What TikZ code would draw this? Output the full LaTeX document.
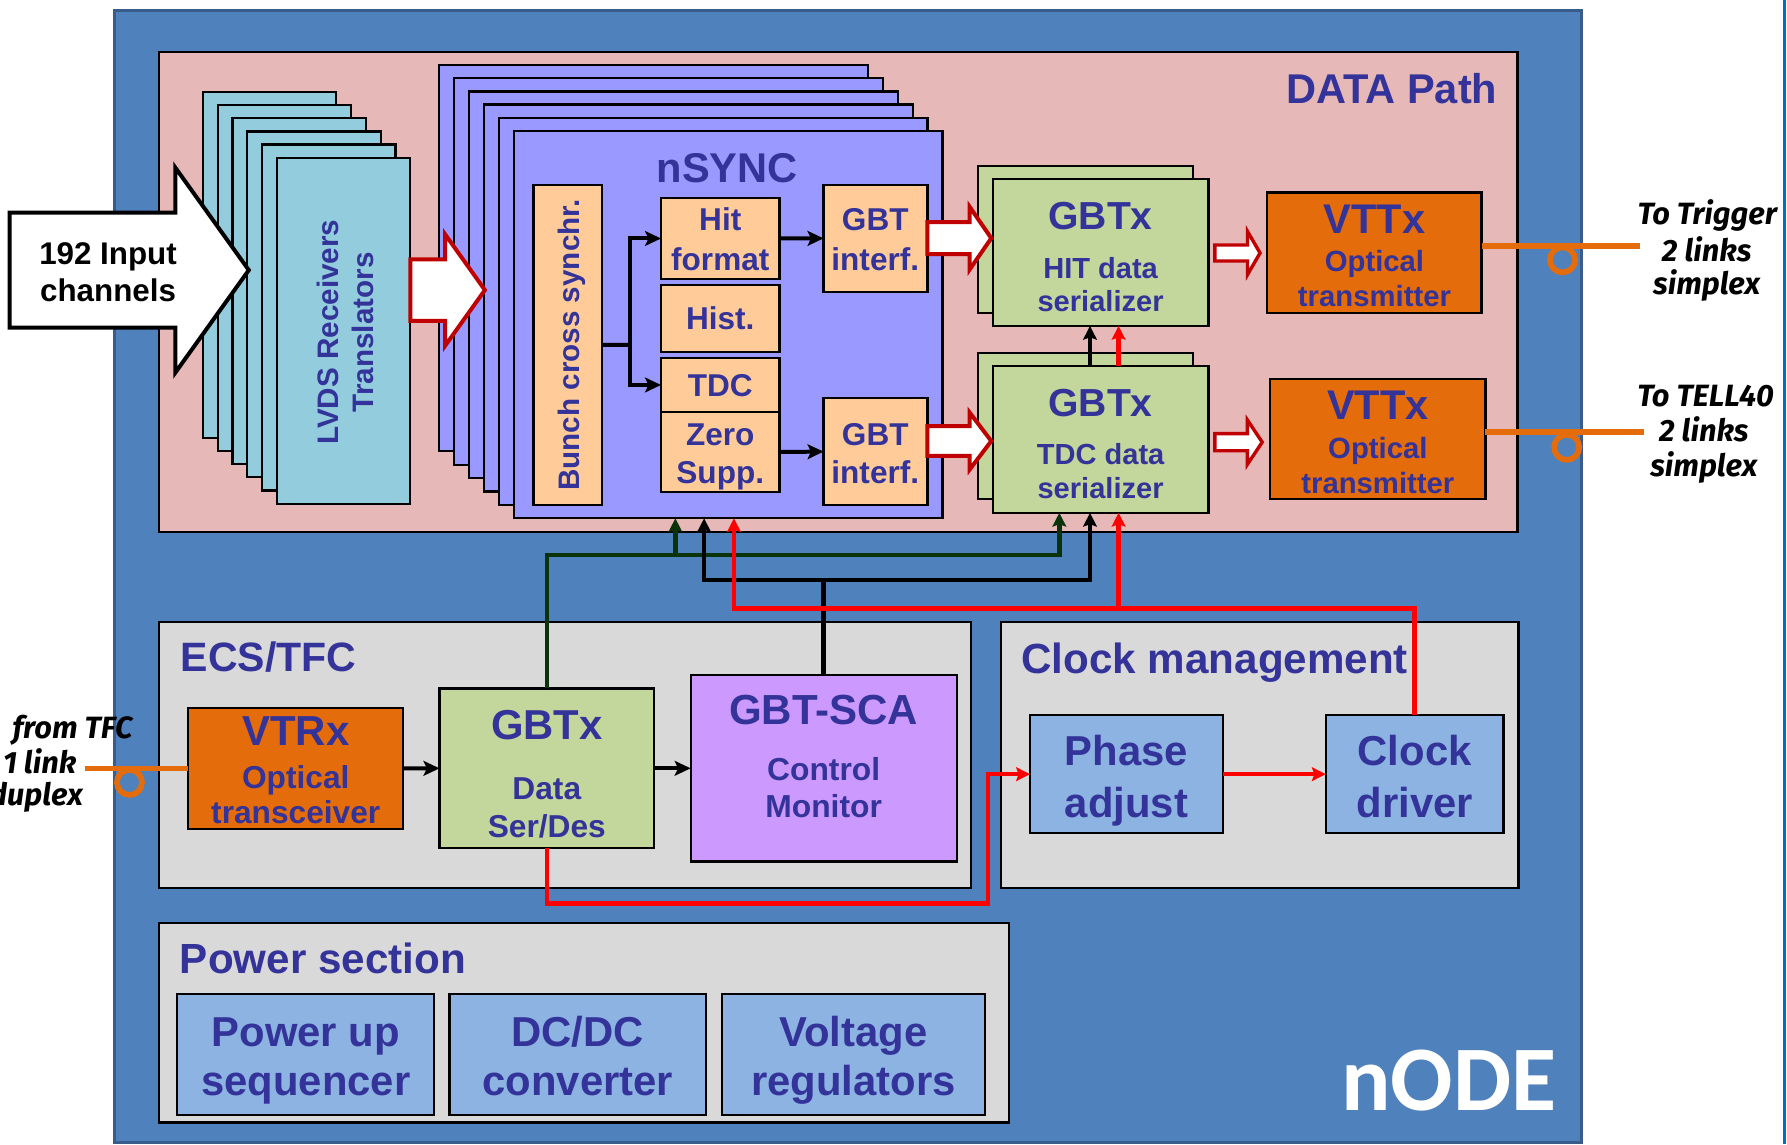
\documentclass[tikz,border=0pt]{standalone}
\usepackage{fontspec}
\setmainfont{Liberation Sans}
\newfontfamily\calfont{Carlito}
\newfontfamily\handfont{Fira Sans}
\usetikzlibrary{arrows.meta}
\definecolor{nodeblue}{HTML}{4F81BD}
\definecolor{nodeborder}{HTML}{385D8A}
\definecolor{pinkbg}{HTML}{E6B9B8}
\definecolor{lvds}{HTML}{93CDDD}
\definecolor{nsync}{HTML}{9999FF}
\definecolor{peach}{HTML}{FFCC99}
\definecolor{gbtgreen}{HTML}{C3D69B}
\definecolor{orng}{HTML}{E46C0A}
\definecolor{lilac}{HTML}{CC99FF}
\definecolor{ltblue}{HTML}{8DB3E2}
\definecolor{grayb}{HTML}{D9D9D9}
\definecolor{tblue}{HTML}{333399}
\definecolor{dgreen}{HTML}{0A330A}
\definecolor{darkred}{HTML}{C00000}
\definecolor{edgeblue}{HTML}{0070C0}
\newcommand\fsz[1]{\fontsize{#1}{#1}\selectfont}
\newcommand\mkbox[6]{\node[bx,fill=#2,minimum width={(#5)-(#3)},minimum height={(#6)-(#4)}] (#1) at (#3,#4) {};}
\newcommand\tline[5]{\node[txt,font={\bfseries\fsz{#4}}] (#1) at (#2,#3) {#5};}
\newcommand\fatarrow[8]{\draw[line width=#8, fill=white, line join=miter] (#1,#3-#4) -- (#2-#6,#3-#4) -- (#2-#6,#3-#5) -- (#2,#3) -- (#2-#6,#3+#5) -- (#2-#6,#3+#4) -- (#1,#3+#4) -- cycle;}
\tikzset{
  bx/.style={draw=black, line width=2pt, inner sep=0pt, outer sep=0pt, anchor=north west},
  txt/.style={anchor=base, text=tblue, inner sep=0pt},
  hand/.style={anchor=base, inner sep=0pt, font={\handfont\bfseries\itshape\fsz{27}}},
  blkarr/.style={draw=black, line width=3.5pt, -{Stealth[length=14pt,width=13pt,inset=3pt]}},
  cline/.style={line width=4pt},
  ctip/.style={-{Stealth[length=12pt,width=12pt,inset=2pt]}},
  lnk/.style={draw=orng, line width=5pt},
}
\begin{document}
\begin{tikzpicture}[x=1pt,y=-1pt]
\useasboundingbox (0,0) rectangle (1568,1004);
% outer nODE box
\draw[fill=nodeblue, draw=nodeborder, line width=2.5pt] (100.7,9.4) rectangle (1387.8,1002.6);
\draw[draw=edgeblue, line width=2.5pt] (1566,0) -- (1566,1004);
% DATA path
\mkbox{datap}{pinkbg}{139.3}{45.4}{1331.5}{466.5}
\node[txt, anchor=base east, font={\bfseries\fsz{36.5}}] (tdata) at (1314,90.6) {DATA Path};
% LVDS stack
\foreach \i in {0,...,5} {\mkbox{lv\i}{lvds}{178+13*\i}{80.5+11.6*\i}{295+13*\i}{384+11.6*\i}}
\node[txt, rotate=90, font={\bfseries\fsz{26}}] (tlv1) at (297,291.5) {LVDS Receivers};
\node[txt, rotate=90, font={\bfseries\fsz{26}}] (tlv2) at (327.5,291.5) {Translators};
% nSYNC stack
\foreach \i in {0,...,5} {\mkbox{ns\i}{nsync}{385.5+13.04*\i}{57+11.6*\i}{761.7+13.04*\i}{396+11.76*\i}}
\tline{tns}{638}{160.3}{36.5}{nSYNC}
\mkbox{bunch}{peach}{468}{162.3}{528.4}{443}
\node[txt, rotate=90, font={\bfseries\fsz{26}}] (tbunch) at (508.9,302.7) {Bunch cross synchr.};
\mkbox{hit}{peach}{580}{174}{684}{244.5}
\mkbox{hist}{peach}{580}{250.3}{684}{308.9}
\mkbox{tdc}{peach}{580}{314.4}{684}{361.2}
\mkbox{zero}{peach}{580}{361.2}{684}{432}
\mkbox{gbti}{peach}{722.6}{162.3}{813.7}{256}
\mkbox{gbtii}{peach}{722.6}{349.5}{813.7}{443}
\tline{thit1}{632}{202.4}{27.7}{Hit}
\tline{thit2}{632}{237}{27.7}{format}
\tline{thist}{632}{289.5}{27.7}{Hist.}
\tline{ttdc}{632}{348}{27.7}{TDC}
\tline{tzero1}{632}{390.5}{27.7}{Zero}
\tline{tzero2}{632}{424}{27.7}{Supp.}
\tline{tgi1}{768}{202.4}{27.7}{GBT}
\tline{tgi2}{768}{237}{27.7}{interf.}
\tline{tgii1}{768}{390.5}{27.7}{GBT}
\tline{tgii2}{768}{424}{27.7}{interf.}
\coordinate (bj) at (552.4,302.6);
\draw[line width=3.5pt] (bunch.east) -- (bj);
\draw[blkarr] (bj) |- (hit.west);
\draw[blkarr] (bj) |- (tdc.west);
\draw[blkarr] (hit.east) -- (gbti.west);
\draw[blkarr] (zero.east) -- (gbtii.west);
% GBTx serializers
\mkbox{hitB}{gbtgreen}{858.4}{145.4}{1047}{274.4}
\mkbox{hitF}{gbtgreen}{871}{157}{1060.3}{286}
\mkbox{tdcB}{gbtgreen}{858.4}{309.5}{1047}{438}
\mkbox{tdcF}{gbtgreen}{871}{321}{1060.3}{450}
\tline{th1}{965.7}{201.8}{34.3}{GBTx}
\tline{th2}{965.7}{244}{25.5}{HIT data}
\tline{th3}{965.7}{273.5}{25.5}{serializer}
\tline{tt1}{965.7}{365.6}{34.3}{GBTx}
\tline{tt2}{965.7}{408}{25.5}{TDC data}
\tline{tt3}{965.7}{437.3}{25.5}{serializer}
% VTTx
\mkbox{vttxi}{orng}{1111.8}{169}{1300}{274.4}
\mkbox{vttxii}{orng}{1114.6}{332.8}{1303.4}{438}
\tline{tv11}{1206}{204.7}{36.4}{VTTx}
\tline{tv12}{1206}{238.4}{25.7}{Optical}
\tline{tv13}{1206}{269}{25.7}{transmitter}
\tline{tv21}{1209}{368.5}{36.4}{VTTx}
\tline{tv22}{1209}{402}{25.7}{Optical}
\tline{tv23}{1209}{432.8}{25.7}{transmitter}
% fat arrows
\begin{scope}[draw=darkred]
\fatarrow{360}{425.5}{254.5}{27}{49}{35}{}{3.5pt}
\fatarrow{813.7}{869.8}{209}{14}{27.5}{19}{}{3.5pt}
\fatarrow{813.7}{869.8}{387}{13}{25}{19}{}{3.5pt}
\fatarrow{1066}{1105.6}{222}{7}{19}{11}{}{3pt}
\fatarrow{1066}{1107.5}{388}{7.5}{19.5}{13}{}{3pt}
\end{scope}
\begin{scope}[draw=black]
\fatarrow{8.4}{218.3}{237}{50.5}{90}{64.5}{}{3.5pt}
\end{scope}
\node[anchor=base, inner sep=0pt, font={\bfseries\fsz{27.5}}] (tin1) at (94.8,232) {192 Input};
\node[anchor=base, inner sep=0pt, font={\bfseries\fsz{27.5}}] (tin2) at (94.8,264.8) {channels};
% ECS/TFC
\mkbox{ecs}{grayb}{139.3}{545.5}{852.2}{779.4}
\node[txt, anchor=base west, font={\bfseries\fsz{36}}] (tecs) at (158.4,589.4) {ECS/TFC};
\mkbox{vtrx}{orng}{165}{621}{353.7}{727.4}
\mkbox{gbtxE}{gbtgreen}{385.6}{604}{574}{744.3}
\mkbox{sca}{lilac}{606}{592.3}{839.4}{756}
\tline{tr1}{259.5}{653.7}{36.8}{VTRx}
\tline{tr2}{259.5}{691.7}{27.8}{Optical}
\tline{tr3}{259.5}{722.4}{27.8}{transceiver}
\tline{te1}{479.8}{648.7}{36.7}{GBTx}
\tline{te2}{479.8}{701.3}{27.8}{Data}
\tline{te3}{479.8}{734.7}{27.8}{Ser/Des}
\tline{ts1}{722.7}{636.1}{36.9}{GBT-SCA}
\tline{ts2}{722.7}{684.4}{27.9}{Control}
\tline{ts3}{722.7}{717.1}{27.9}{Monitor}
\draw[blkarr] (vtrx.east) -- (gbtxE.west);
\draw[blkarr] (gbtxE.east) -- (sca.west);
% Clock management
\mkbox{clk}{grayb}{878}{545.5}{1332.5}{779.4}
\node[txt, anchor=base west, font={\bfseries\fsz{37}}] (tclk) at (896,590.8) {Clock management};
\mkbox{phase}{ltblue}{903.7}{627.4}{1073}{731.2}
\mkbox{cdrv}{ltblue}{1163.2}{627.4}{1319.3}{731.2}
\tline{tp1}{988.4}{671.8}{36.7}{Phase}
\tline{tp2}{988.4}{717.1}{36.7}{adjust}
\tline{tc1}{1241.3}{671.8}{36.7}{Clock}
\tline{tc2}{1241.3}{717.1}{36.7}{driver}
% Power section
\mkbox{pwr}{grayb}{139.2}{810}{885.2}{985}
\node[txt, anchor=base west, font={\bfseries\fsz{37}}] (tpwr) at (157.7,854.6) {Power section};
\mkbox{pup}{ltblue}{155.5}{872.4}{381}{978.3}
\mkbox{dcdc}{ltblue}{394.4}{872.4}{619.4}{978.3}
\mkbox{vreg}{ltblue}{633.3}{872.4}{864}{978.3}
\tline{tpu1}{268.3}{918.4}{36.7}{Power up}
\tline{tpu2}{268.3}{960.8}{36.7}{sequencer}
\tline{tdc1}{506.9}{918.4}{36.7}{DC/DC}
\tline{tdc2}{506.9}{960.8}{36.7}{converter}
\tline{tvr1}{748.7}{918.4}{36.7}{Voltage}
\tline{tvr2}{748.7}{960.8}{36.7}{regulators}
\node[anchor=base east, inner sep=0pt, text=white, font={\calfont\bfseries\fsz{81}}] (tnode) at (1366,974) {nODE};
% colored connectors
\coordinate (gj2) at (592.6,487);
\coordinate (gj3) at (929.5,487);
\draw[cline, draw=dgreen, ctip] (gbtxE.north) |- (gj3) -- (gj3 |- tdcF.south);
\draw[cline, draw=dgreen, ctip] (gj2) -- (gj2 |- ns5.south);
\coordinate (bj1) at (617.8,509);
\coordinate (bj2) at (956.4,509);
\draw[cline, draw=black] (sca.north) -- (sca.north |- bj1);
\draw[cline, draw=black, {Stealth[length=12pt,width=12pt,inset=2pt]}-{Stealth[length=12pt,width=12pt,inset=2pt]}] (bj1 |- ns5.south) -- (bj1) -- (bj2) -- (bj2 |- tdcF.south);
\coordinate (rj1) at (644,533.8);
\coordinate (rj2) at (981.5,533.8);
\draw[cline, draw=red, ctip] (cdrv.north) -- (cdrv.north |- rj1) -- (rj1) -- (rj1 |- ns5.south);
\draw[cline, draw=red, ctip] (rj2) -- (rj2 |- tdcF.south);
\draw[cline, draw=black, ctip] (tdcF.north -| bj2) -- (hitF.south -| bj2);
\draw[cline, draw=red, ctip] (tdcF.north -| rj2) -- (hitF.south -| rj2);
\coordinate (rj4) at (479.8,792.6);
\coordinate (rj5) at (867,792.6);
\draw[cline, draw=red, ctip] (gbtxE.south) -- (rj4) -- (rj5) |- (phase.west);
\draw[cline, draw=red, ctip] (phase.east) -- (cdrv.west);
% optical links
\coordinate (oi) at (1439,215.6);
\coordinate (oii) at (1442.6,379.3);
\coordinate (oiii) at (74.4,674.2);
\draw[lnk] (vttxi.east |- oi) -- (oi);
\draw[lnk] (1371,228) circle (11);
\draw[lnk] (vttxii.east |- oii) -- (oii);
\draw[lnk] (1374.7,392.5) circle (11);
\draw[lnk] (oiii) -- (vtrx.west);
\draw[lnk] (113.6,686.5) circle (11);
% link labels
\node[hand] (lt1) at (1498,197.4) {To Trigger};
\node[hand] (lt2) at (1497.5,229.6) {2 links};
\node[hand] (lt3) at (1497.5,258.8) {simplex};
\node[hand] (lt4) at (1496.5,357) {To TELL40};
\node[hand] (lt5) at (1495,387.5) {2 links};
\node[hand] (lt6) at (1495,418.2) {simplex};
\node[hand, anchor=base east] (lf1) at (116.4,647.8) {from TFC};
\node[hand, anchor=base east] (lf2) at (67.1,678.5) {1 link};
\node[hand, anchor=base east] (lf3) at (72.8,707.2) {duplex};
\end{tikzpicture}
\end{document}
